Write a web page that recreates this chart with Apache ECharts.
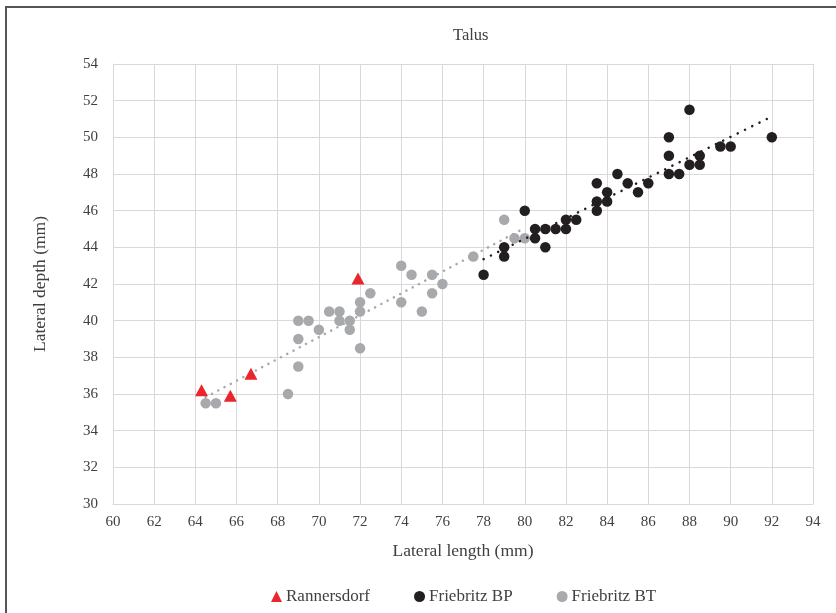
<!DOCTYPE html>
<html><head><meta charset="utf-8">
<script src="https://cdn.jsdelivr.net/npm/echarts@6/dist/echarts.min.js"></script>
<style>html,body{margin:0;padding:0;background:#fff}#c{width:836px;height:613px}</style>
</head><body><div id="c"></div>
<script>
const seriesNames = ['Rannersdorf', 'Friebritz BP', 'Friebritz BT'];
const rannersdorf = [[64.3,36.2],[65.7,35.9],[66.7,37.1],[71.9,42.3]];
const friebritzBP = [[78,42.5],[79,44],[79,43.5],[80,46],[80.5,45],[80.5,44.5],[81,45],[81,44],[81.5,45],[82,45],[82,45.5],[82.5,45.5],[83.5,46],[83.5,46.5],[83.5,47.5],[84,46.5],[84,47],[84.5,48],[85,47.5],[85.5,47],[86,47.5],[87,48],[87,49],[87,50],[87.5,48],[88,48.5],[88,51.5],[88.5,48.5],[88.5,49],[89.5,49.5],[90,49.5],[92,50]];
const friebritzBT = [[64.5,35.5],[65,35.5],[68.5,36],[69,40],[69.5,40],[69,39],[69,37.5],[70,39.5],[70.5,40.5],[71,40.5],[71,40],[71.5,40],[71.5,39.5],[72,41],[72,40.5],[72,38.5],[72.5,41.5],[74,43],[74,41],[74.5,42.5],[75.5,42.5],[76,42],[75.5,41.5],[75,40.5],[77.5,43.5],[79,45.5],[79.5,44.5],[80,44.5]];
const xTicks = {min:60, max:94, interval:2};
const yTicks = {min:30, max:54, interval:2};

// Linear trendline (least squares) from the data, spanning the series' x range
function trend(pts){
  const n=pts.length; let sx=0,sy=0,sxx=0,sxy=0;
  pts.forEach(p=>{sx+=p[0];sy+=p[1];sxx+=p[0]*p[0];sxy+=p[0]*p[1];});
  const b=(n*sxy-sx*sy)/(n*sxx-sx*sx), a=(sy-b*sx)/n;
  const xs=pts.map(p=>p[0]); const x0=Math.min(...xs), x1=Math.max(...xs);
  return [[x0,a+b*x0],[x1,a+b*x1]];
}

const FONT = '"Liberation Serif", "DejaVu Serif", serif';
const chart = echarts.init(document.getElementById('c'));
chart.setOption({
  animation:false,
  textStyle:{fontFamily:FONT},
  title:{text:'Talus', left:448, top:22,
    textStyle:{fontFamily:FONT, fontSize:16.5, fontWeight:'normal', color:'#404040'}},
  graphic:[{type:'polyline', shape:{points:[[6,620],[6,7],[840,7]]},
    style:{stroke:'#555', lineWidth:2, fill:null}, silent:true}],
  grid:{left:113, right:23, top:64, bottom:109},
  legend:{bottom:3, left:266, itemGap:44, itemWidth:11, itemHeight:11,
    textStyle:{fontFamily:FONT, fontSize:17, color:'#404040', padding:[0,0,0,-1]},
    data:[{name:seriesNames[0], icon:'triangle'},{name:seriesNames[1], icon:'circle'},{name:seriesNames[2], icon:'circle'}]},
  xAxis:{type:'value', min:xTicks.min, max:xTicks.max, interval:xTicks.interval,
    name:'Lateral length (mm)', nameLocation:'middle', nameGap:38,
    nameTextStyle:{fontFamily:FONT, fontSize:17.5, color:'#404040'},
    axisLine:{show:true, lineStyle:{color:'#d9d9d9'}}, axisTick:{show:false},
    axisLabel:{fontFamily:FONT, fontSize:15, color:'#404040', margin:11},
    splitLine:{show:true, lineStyle:{color:'#d9d9d9', width:1}}},
  yAxis:{type:'value', min:yTicks.min, max:yTicks.max, interval:yTicks.interval,
    name:'Lateral depth (mm)', nameLocation:'middle', nameGap:64,
    nameTextStyle:{fontFamily:FONT, fontSize:17.5, color:'#404040'},
    axisLine:{show:true, lineStyle:{color:'#d9d9d9'}}, axisTick:{show:false},
    axisLabel:{fontFamily:FONT, fontSize:15, color:'#404040', margin:15},
    splitLine:{show:true, lineStyle:{color:'#d9d9d9', width:1}}},
  series:[
    {name:'trendBT', type:'line', data:trend(friebritzBT), symbol:'none', silent:true, z:3,
      lineStyle:{color:'#a7a9ac', width:2.5, type:[0.1,7], cap:'round'}},
    {name:'trendBP', type:'line', data:trend(friebritzBP), symbol:'none', silent:true, z:3,
      lineStyle:{color:'#231f20', width:2.5, type:[0.1,8], cap:'round'}},
    {name:seriesNames[2], type:'scatter', data:friebritzBT, symbol:'circle', symbolSize:10.5, z:2,
      itemStyle:{color:'#a7a9ac', opacity:1}},
    {name:seriesNames[1], type:'scatter', data:friebritzBP, symbol:'circle', symbolSize:10.5, z:4,
      itemStyle:{color:'#231f20', opacity:1}},
    {name:seriesNames[0], type:'scatter', data:rannersdorf, symbol:'triangle', symbolSize:[13,12], z:5,
      itemStyle:{color:'#e8262c', opacity:1}}
  ]
});
</script></body></html>
